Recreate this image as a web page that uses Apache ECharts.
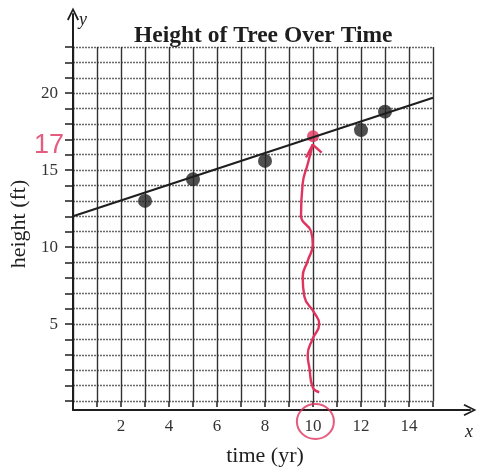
<!DOCTYPE html>
<html>
<head>
<meta charset="utf-8">
<script src="https://cdn.jsdelivr.net/npm/echarts@6/dist/echarts.min.js"></script>
<style>
  html, body { margin: 0; padding: 0; background: #fff; }
  #chart { width: 482px; height: 472px; }
</style>
</head>
<body>
<div id="chart"></div>
<script>
// measured points (time in years, height in feet)
const timeYr = [3, 5, 8, 12, 13];
const heightFt = [13.0, 14.4, 15.6, 17.6, 18.8];

// line of best fit drawn on the sheet
const trendX = [0, 15];
const trendY = [12.0, 19.7];

// tick labels
const xTickLabels = [2, 4, 6, 8, 10, 12, 14];
const yTickLabels = [5, 10, 15, 20];

// red pen marks
const markedX = 10;
const markedY = 17.2;
const penX = [10.26, 9.99, 9.85, 9.78, 9.99, 10.26, 10.05, 9.64, 9.57, 9.78, 9.99, 9.92, 9.5, 9.57, 9.78, 9.99];
const penY = [0.57, 0.89, 2.15, 2.99, 4.05, 5.0, 5.74, 6.79, 8.06, 9.11, 10.17, 11.01, 12.03, 14.13, 15.4, 16.66];
const headX = [9.71, 9.99, 10.36];
const headY = [15.82, 16.66, 16.14];
const noteText = '17';
const noteX = -1.0;
const noteY = 16.6;
const ringX = 10.1;
const ringY = -1.33;

const RED = '#e0335e';
const INK = '#1e1e1e';
const serif = 'Liberation Serif, Times New Roman, serif';
const chevron = 'path://M0,12 L6,0 L12,12 L10.4,12.9 L6,3.6 L1.6,12.9 Z';

const zip = (xs, ys) => xs.map((x, i) => [x, ys[i]]);

const chart = echarts.init(document.getElementById('chart'));
chart.setOption({
  backgroundColor: '#fff',
  animation: false,
  title: {
    text: 'Height of Tree Over Time',
    left: 129,
    top: 19,
    textStyle: { fontFamily: serif, fontWeight: 'bold', fontSize: 23.5, color: INK }
  },
  grid: [
    { left: 73, right: 49, top: 47, bottom: 62 },
    { left: 73, right: 12, top: 14, bottom: 62 }
  ],
  xAxis: [
    {
      type: 'value', gridIndex: 0, min: 0, max: 15, interval: 1,
      name: 'time (yr)', nameLocation: 'middle', nameGap: 44,
      nameTextStyle: { fontFamily: serif, fontSize: 22, color: INK, padding: [0, 0, 0, 24] },
      axisLine: { show: false },
      axisTick: { show: true, length: 6, lineStyle: { color: INK, width: 1.5 } },
      axisLabel: {
        margin: 17, fontFamily: serif, fontSize: 17, color: '#333',
        formatter: v => xTickLabels.includes(v) ? String(v) : ''
      },
      splitLine: { show: true, lineStyle: { color: '#333', width: 1.4 } }
    },
    {
      type: 'value', gridIndex: 1, min: 0, max: 1,
      axisLine: { show: true, onZero: false, symbol: ['none', chevron], symbolSize: [12, 13],
        lineStyle: { color: INK, width: 2 } },
      axisTick: { show: false }, axisLabel: { show: false }, splitLine: { show: false }
    }
  ],
  yAxis: [
    {
      type: 'value', gridIndex: 0, min: 0, max: 23, interval: 1,
      name: 'height (ft)', nameLocation: 'middle', nameGap: 36,
      nameTextStyle: { fontFamily: serif, fontSize: 22, color: INK },
      axisLine: { show: false },
      axisTick: { show: true, length: 8, lineStyle: { color: INK, width: 1.5 } },
      axisLabel: {
        margin: 15, fontFamily: serif, fontSize: 17, color: '#333',
        formatter: v => yTickLabels.includes(v) ? String(v) : ''
      },
      splitLine: { show: true, lineStyle: { color: '#6a6a6a', width: 1.3, type: [2, 1] } }
    },
    {
      type: 'value', gridIndex: 1, min: 0, max: 1,
      axisLine: { show: true, onZero: false, symbol: ['none', chevron], symbolSize: [12, 13],
        lineStyle: { color: INK, width: 2 } },
      axisTick: { show: false }, axisLabel: { show: false }, splitLine: { show: false }
    }
  ],
  graphic: [
    { type: 'text', left: 79, top: 11,
      style: { text: 'y', font: 'italic 18px ' + serif, fill: INK } },
    { type: 'text', left: 465, top: 423,
      style: { text: 'x', font: 'italic 18px ' + serif, fill: INK } }
  ],
  series: [
    {
      type: 'line', data: zip(trendX, trendY), showSymbol: false,
      lineStyle: { color: INK, width: 2 }, silent: true
    },
    {
      type: 'scatter', data: zip(timeYr, heightFt), symbolSize: 14,
      itemStyle: { color: '#232323' }
    },
    {
      type: 'line', data: zip(penX, penY), smooth: 0.5, showSymbol: false, clip: false,
      lineStyle: { color: RED, width: 2.4 }
    },
    {
      type: 'line', data: zip(headX, headY), showSymbol: false, clip: false,
      lineStyle: { color: RED, width: 2.4 }
    },
    {
      type: 'scatter', data: [[markedX, markedY]], symbolSize: 12,
      itemStyle: { color: RED }
    },
    {
      type: 'scatter', data: [[ringX, ringY]], clip: false, symbol: 'circle',
      symbolSize: [37, 35],
      itemStyle: { color: 'rgba(0,0,0,0)', borderColor: RED, borderWidth: 2 }
    },
    {
      type: 'scatter', data: [[noteX, noteY]], clip: false, symbolSize: 1,
      itemStyle: { color: 'rgba(0,0,0,0)' },
      label: { show: true, position: 'inside', formatter: noteText,
        fontFamily: 'Liberation Sans, sans-serif', fontSize: 27, color: RED }
    }
  ]
});
</script>
</body>
</html>
